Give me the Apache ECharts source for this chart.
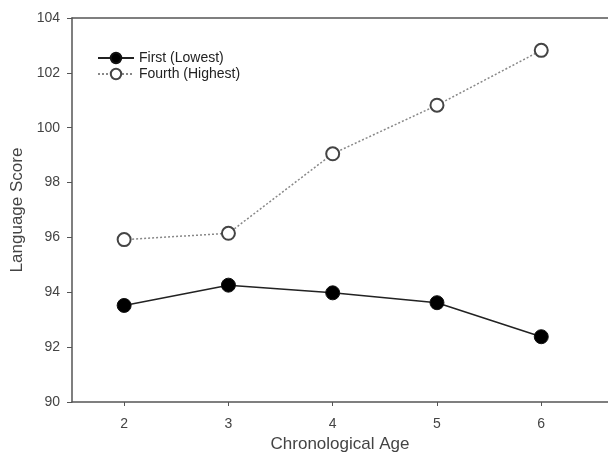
<!DOCTYPE html>
<html><head><meta charset="utf-8">
<script src="https://cdn.jsdelivr.net/npm/echarts@6/dist/echarts.min.js"></script>
<style>html,body{margin:0;padding:0;background:#fff}#c{width:608px;height:453px}</style>
</head><body><div id="c"></div>
<script>
var ages = [2, 3, 4, 5, 6];
var firstLowest = [93.52, 94.26, 93.98, 93.62, 92.38];
var fourthHighest = [95.92, 96.15, 99.05, 100.82, 102.82];
var yTicks = [90, 92, 94, 96, 98, 100, 102, 104];
var names = ['First (Lowest)', 'Fourth (Highest)'];

var chart = echarts.init(document.getElementById('c'));
var ff = 'Liberation Sans, Arial';
chart.setOption({
  animation: false,
  grid: {left: 72, top: 18, right: 0, bottom: 51, outerBoundsMode: 'none', containLabel: false},
  legend: {
    left: 92, top: 46, orient: 'vertical', itemGap: 2,
    itemWidth: 36, itemHeight: 13,
    textStyle: {color: '#222', fontFamily: ff, fontSize: 14},
    data: names
  },
  xAxis: [{
    type: 'value', min: 1.5, max: 6.64,
    name: 'Chronological Age', nameLocation: 'middle', nameGap: 34,
    nameTextStyle: {color: '#444', fontFamily: ff, fontSize: 17},
    axisLine: {lineStyle: {color: '#555', width: 1.5}},
    axisTick: {show: true, length: 4, customValues: ages, lineStyle: {color: '#555'}},
    axisLabel: {margin: 15, customValues: ages, color: '#444', fontFamily: ff, fontSize: 14},
    splitLine: {show: false}
  }, {
    type: 'value', position: 'top', min: 1.5, max: 6.64,
    axisLine: {show: true, lineStyle: {color: '#555', width: 1.5}},
    axisTick: {show: false}, axisLabel: {show: false}, splitLine: {show: false}
  }],
  yAxis: {
    type: 'value', min: 90, max: 104, interval: 2,
    name: 'Language Score', nameLocation: 'middle', nameGap: 40, nameRotate: 90,
    nameTextStyle: {color: '#444', fontFamily: ff, fontSize: 17},
    axisLine: {show: true, lineStyle: {color: '#555', width: 1.5}},
    axisTick: {show: true, length: 5, customValues: yTicks, lineStyle: {color: '#555'}},
    axisLabel: {margin: 12, customValues: yTicks, color: '#444', fontFamily: ff, fontSize: 14},
    splitLine: {show: false}
  },
  series: [{
    name: names[0], type: 'line',
    data: ages.map(function(a, i){return [a, firstLowest[i]];}),
    symbol: 'circle', symbolSize: 14,
    itemStyle: {color: '#000', borderColor: '#111', borderWidth: 1},
    lineStyle: {color: '#222', width: 1.5}
  }, {
    name: names[1], type: 'line',
    data: ages.map(function(a, i){return [a, fourthHighest[i]];}),
    symbol: 'circle', symbolSize: 13,
    itemStyle: {color: '#fff', borderColor: '#444', borderWidth: 2},
    lineStyle: {color: '#888', width: 1.5, type: [2, 2]}
  }]
});
</script></body></html>
